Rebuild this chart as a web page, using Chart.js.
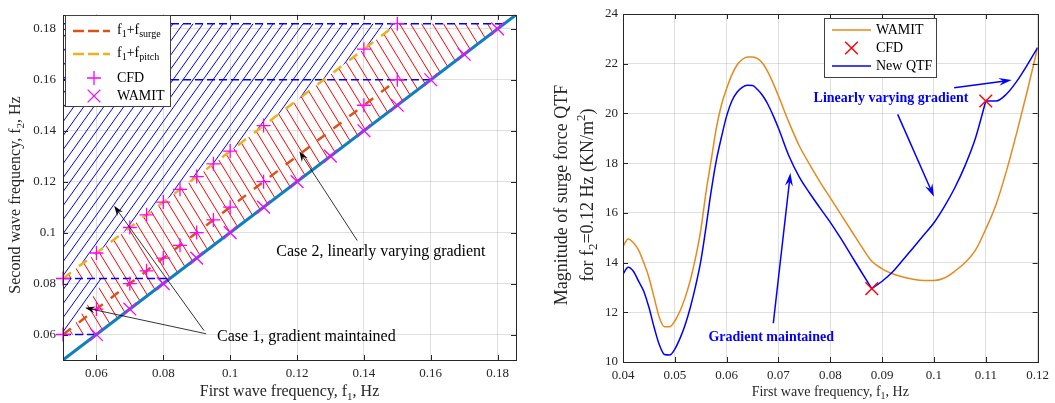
<!DOCTYPE html>
<html>
<head>
<meta charset="utf-8">
<script src="https://cdn.jsdelivr.net/npm/chart.js@4.4.1/dist/chart.umd.min.js"></script>
<style>
  html, body { margin: 0; padding: 0; background: #fff; }
  #wrap { position: relative; width: 1055px; height: 403px; }
  #left { position: absolute; left: 0; top: 0; }
  #right { position: absolute; left: 530px; top: 0; }
</style>
</head>
<body>
<div id="wrap">
  <canvas id="left" width="530" height="403"></canvas>
  <canvas id="right" width="525" height="403"></canvas>
</div>
<script>
// two-panel QTF figure: frequency-pair map (left) and QTF slice at f2 = 0.12 Hz (right)

// --- left panel data ---
const leftTicks = [0.06, 0.08, 0.1, 0.12, 0.14, 0.16, 0.18];
const leftTickLabels = ['0.06', '0.08', '0.1', '0.12', '0.14', '0.16', '0.18'];

const caseOneLowF1 = [0.05, 0.05, 0.0625, 0.0515];
const caseOneLowF2 = [0.06, 0.082, 0.082, 0.06];
const caseOneHighF1 = [0.05, 0.05, 0.15];
const caseOneHighF2 = [0.082, 0.182, 0.182];
const caseTwoF1 = [0.05, 0.0625, 0.0515, 0.06, 0.182, 0.15];
const caseTwoF2 = [0.082, 0.082, 0.06, 0.06, 0.182, 0.182];

const diagF1 = [0.05, 0.1855];
const diagF2 = [0.05, 0.1855];
const surgeF1 = [0.05, 0.15];
const surgeF2 = [0.06, 0.16];
const pitchF1 = [0.05, 0.15];
const pitchF2 = [0.082, 0.182];
const levelF2 = [0.06, 0.082, 0.16, 0.182];
const levelEndF1 = [0.06, 0.082, 0.16, 0.182];

const cfdLeftF1 = [0.05, 0.06, 0.07, 0.075, 0.08, 0.085, 0.09, 0.095, 0.1, 0.11, 0.14, 0.15];
const cfdSurgeF2 = [0.06, 0.07, 0.08, 0.085, 0.09, 0.095, 0.1, 0.105, 0.11, 0.12, 0.15, 0.16];
const cfdPitchF2 = [0.082, 0.092, 0.102, 0.107, 0.112, 0.117, 0.122, 0.127, 0.132, 0.142, 0.172, 0.182];
const wamitLeftF1 = [0.06, 0.07, 0.08, 0.09, 0.1, 0.11, 0.12, 0.13, 0.14, 0.15, 0.16, 0.17, 0.18];
const wamitLeftF2 = [0.06, 0.07, 0.08, 0.09, 0.1, 0.11, 0.12, 0.13, 0.14, 0.15, 0.16, 0.17, 0.18];

// --- right panel data ---
const rightXTicks = [0.04, 0.05, 0.06, 0.07, 0.08, 0.09, 0.1, 0.11, 0.12];
const rightXTickLabels = ['0.04', '0.05', '0.06', '0.07', '0.08', '0.09', '0.1', '0.11', '0.12'];
const rightYTicks = [10, 12, 14, 16, 18, 20, 22, 24];
const rightYTickLabels = ['10', '12', '14', '16', '18', '20', '22', '24'];

const qtfF1 = [0.040, 0.041, 0.042, 0.043, 0.044, 0.045, 0.046, 0.047, 0.048, 0.049,
  0.050, 0.051, 0.052, 0.053, 0.054, 0.055, 0.056, 0.057, 0.058, 0.059,
  0.060, 0.061, 0.062, 0.063, 0.064, 0.065, 0.066, 0.067, 0.068, 0.069,
  0.070, 0.072, 0.074, 0.076, 0.078, 0.080, 0.082, 0.084, 0.086, 0.088,
  0.090, 0.092, 0.094, 0.096, 0.098, 0.100, 0.102, 0.104, 0.106, 0.108,
  0.110, 0.112, 0.114, 0.116, 0.118, 0.120];
const wamitMag = [14.65, 14.95, 14.8, 14.5, 14.0, 13.4, 12.6, 11.8, 11.42, 11.42,
  11.65, 12.05, 12.6, 13.3, 14.2, 15.3, 16.8, 18.1, 19.4, 20.35,
  21.0, 21.55, 21.95, 22.17, 22.27, 22.27, 22.2, 22.0, 21.65, 21.2,
  20.7, 19.65, 18.7, 17.95, 17.25, 16.6, 15.95, 15.3, 14.65, 14.05,
  13.75, 13.55, 13.42, 13.33, 13.28, 13.28, 13.38, 13.65, 14.0, 14.5,
  15.35, 16.35, 17.7, 19.25, 20.9, 22.65];
const newQtfMag = [13.54, 13.81, 13.65, 13.25, 12.85, 12.2, 11.4, 10.7, 10.3, 10.28,
  10.52, 10.95, 11.5, 12.2, 13.05, 14.05, 15.4, 16.85, 18.1, 19.05,
  19.9, 20.5, 20.85, 21.05, 21.13, 21.12, 20.95, 20.7, 20.35, 19.9,
  19.4, 18.3, 17.45, 16.8, 16.2, 15.62, 14.98, 14.3, 13.62, 12.95,
  13.25, 13.62, 14.1, 14.6, 15.1, 15.6, 16.25, 17.0, 17.9, 19.0,
  20.5, 20.5, 20.78, 21.3, 21.95, 22.65];
const qtfKinks = [39, 50]; // indices of the two CFD anchor points (0.088, 0.11)
const cfdF1 = [0.088, 0.11];
const cfdMag = [12.95, 20.5];

// --- helpers ---
const FONT = "'Liberation Serif', 'Times New Roman', serif";
const INK = '#262626';
const GRID = 'rgba(38,38,38,0.15)';

const pts = (xs, ys) => xs.map((v, i) => ({ x: v, y: ys[i] }));

function hatch(ctx, color, w, h, slope) {
  const c = document.createElement('canvas');
  c.width = w; c.height = h;
  const g = c.getContext('2d');
  g.strokeStyle = color; g.lineWidth = 1;
  [-w, 0, w].forEach(dx => {
    g.beginPath();
    if (slope > 0) { g.moveTo(dx, h); g.lineTo(dx + w, 0); }
    else { g.moveTo(dx, 0); g.lineTo(dx + w, h); }
    g.stroke();
  });
  return ctx.createPattern(c, 'repeat');
}

// parts: [text, mode] with mode 0 normal, 1 subscript, 2 superscript
function rich(ctx, parts, x, y, size, align, weight) {
  const fontFor = m => `${weight || 'normal'} ${m ? Math.round(size * 0.7) : size}px ${FONT}`;
  const widths = parts.map(([t, m]) => { ctx.font = fontFor(m); return ctx.measureText(t).width; });
  const total = widths.reduce((a, b) => a + b, 0);
  let cx = align === 'center' ? x - total / 2 : x;
  ctx.textAlign = 'left';
  ctx.textBaseline = 'middle';
  parts.forEach(([t, m], i) => {
    ctx.font = fontFor(m);
    const dy = m === 1 ? size * 0.3 : m === 2 ? -size * 0.38 : 0;
    ctx.fillText(t, cx, y + dy);
    cx += widths[i];
  });
}

function richRot(ctx, parts, x, y, size) {
  ctx.save();
  ctx.translate(x, y);
  ctx.rotate(-Math.PI / 2);
  rich(ctx, parts, 0, 0, size, 'center');
  ctx.restore();
}

function arrow(ctx, x0, y0, x1, y1, color, lw, len, wid) {
  const a = Math.atan2(y1 - y0, x1 - x0), c = Math.cos(a), s = Math.sin(a);
  const bx = x1 - len * c, by = y1 - len * s;
  const nx = x1 - len * 0.65 * c, ny = y1 - len * 0.65 * s;
  ctx.strokeStyle = color; ctx.fillStyle = color; ctx.lineWidth = lw;
  ctx.beginPath(); ctx.moveTo(x0, y0); ctx.lineTo(nx, ny); ctx.stroke();
  ctx.beginPath();
  ctx.moveTo(x1, y1);
  ctx.lineTo(bx - wid / 2 * s, by + wid / 2 * c);
  ctx.lineTo(nx, ny);
  ctx.lineTo(bx + wid / 2 * s, by - wid / 2 * c);
  ctx.closePath();
  ctx.fill();
}

function cross(ctx, x, y, r, rot, color, lw) {
  ctx.strokeStyle = color; ctx.lineWidth = lw;
  ctx.beginPath();
  if (rot) {
    const d = r * Math.SQRT1_2;
    ctx.moveTo(x - d, y - d); ctx.lineTo(x + d, y + d);
    ctx.moveTo(x - d, y + d); ctx.lineTo(x + d, y - d);
  } else {
    ctx.moveTo(x - r, y); ctx.lineTo(x + r, y);
    ctx.moveTo(x, y - r); ctx.lineTo(x, y + r);
  }
  ctx.stroke();
}

// box around plot area with inward ticks, MATLAB style
const framePlugin = {
  id: 'frame',
  afterDatasetsDraw(chart) {
    const { ctx, chartArea: a, scales: { x, y } } = chart;
    ctx.save();
    ctx.strokeStyle = INK; ctx.lineWidth = 1;
    ctx.strokeRect(Math.round(a.left) + 0.5, Math.round(a.top) + 0.5,
      Math.round(a.right - a.left), Math.round(a.bottom - a.top));
    ctx.beginPath();
    x.ticks.forEach(t => {
      const px = Math.round(x.getPixelForValue(t.value)) + 0.5;
      ctx.moveTo(px, a.bottom); ctx.lineTo(px, a.bottom - 5);
      ctx.moveTo(px, a.top); ctx.lineTo(px, a.top + 5);
    });
    y.ticks.forEach(t => {
      const py = Math.round(y.getPixelForValue(t.value)) + 0.5;
      ctx.moveTo(a.left, py); ctx.lineTo(a.left + 5, py);
      ctx.moveTo(a.right, py); ctx.lineTo(a.right - 5, py);
    });
    ctx.stroke();
    ctx.restore();
  }
};

// annotations, axis titles and legend
const notesPlugin = {
  id: 'notes',
  afterDraw(chart, args, opts) {
    const { ctx, scales: { x, y } } = chart;
    ctx.save();
    (opts.items || []).forEach(it => {
      if (it.type === 'text') {
        ctx.fillStyle = it.color;
        rich(ctx, [[it.text, 0]], x.getPixelForValue(it.at[0]), y.getPixelForValue(it.at[1]), it.size, 'center', it.weight);
      } else {
        arrow(ctx, x.getPixelForValue(it.from[0]), y.getPixelForValue(it.from[1]),
          x.getPixelForValue(it.to[0]), y.getPixelForValue(it.to[1]), it.color, it.lw, it.len, it.wid);
      }
    });
    if (opts.draw) opts.draw(ctx, chart);
    ctx.restore();
  }
};

function baseScale(min, max, ticks, labels, pad, fit) {
  return {
    type: 'linear', min, max,
    afterBuildTicks: s => { s.ticks = ticks.map(v => ({ value: v })); },
    afterFit: fit,
    grid: { color: GRID, drawTicks: false, lineWidth: 1 },
    border: { display: false },
    ticks: {
      autoSkip: false, maxRotation: 0, padding: pad, color: INK,
      font: { family: FONT, size: 13 },
      callback: (v, i) => labels[i]
    }
  };
}

// --- left chart ---
const lctx = document.getElementById('left').getContext('2d');
const blueHatch = hatch(lctx, '#0000ff', 10, 14, 1);
const redHatch = hatch(lctx, '#ff0000', 11, 18, -1);

const lineDs = (data, color, width, dash, order) => ({
  data, borderColor: color, borderWidth: width, borderDash: dash || [],
  pointRadius: 0, pointHoverRadius: 0, fill: false, order
});
const markDs = (data, style, r, order) => ({
  data, showLine: false, pointStyle: style, pointRadius: r, pointHoverRadius: r,
  pointBorderColor: '#ff00ff', pointBackgroundColor: 'rgba(0,0,0,0)', pointBorderWidth: 1.3,
  borderColor: '#ff00ff', clip: false, order
});
const areaDs = (data, pattern) => ({
  data, fill: 'shape', backgroundColor: pattern, borderColor: 'rgba(0,0,0,0)',
  borderWidth: 0, pointRadius: 0, pointHoverRadius: 0, order: 9
});

new Chart(lctx, {
  type: 'line',
  data: {
    datasets: [
      markDs(pts(cfdLeftF1, cfdSurgeF2), 'cross', 7, 0),
      markDs(pts(cfdLeftF1, cfdPitchF2), 'cross', 7, 0),
      markDs(pts(wamitLeftF1, wamitLeftF2), 'crossRot', 9, 0),
      lineDs(pts(pitchF1, pitchF2), '#edb120', 2.5, [10, 10], 1),
      lineDs(pts(surgeF1, surgeF2), '#d95319', 2.5, [10, 10], 1),
      lineDs(pts(diagF1, diagF2), '#0f7fc0', 3, null, 2),
      ...levelF2.map((v, i) => lineDs([{ x: 0.05, y: v }, { x: levelEndF1[i], y: v }], '#0000ff', 1.5, [8, 4], 3)),
      areaDs(pts(caseOneLowF1, caseOneLowF2), blueHatch),
      areaDs(pts(caseOneHighF1, caseOneHighF2), blueHatch),
      areaDs(pts(caseTwoF1, caseTwoF2), redHatch)
    ]
  },
  options: {
    responsive: false, animation: false, events: [],
    layout: { padding: { top: 13, right: 14, left: 0, bottom: 0 } },
    scales: {
      x: baseScale(0.05, 0.1855, leftTicks, leftTickLabels, 6, s => { s.height = 43; }),
      y: baseScale(0.05, 0.1855, leftTicks, leftTickLabels, 7, s => { s.width = 63; })
    },
    plugins: {
      legend: { display: false }, tooltip: { enabled: false },
      notes: {
        items: [
          { type: 'arrow', from: [0.138, 0.0969], to: [0.1207, 0.1318], color: '#000', lw: 0.8, len: 10, wid: 7 },
          { type: 'arrow', from: [0.0928, 0.0603], to: [0.0566, 0.0705], color: '#000', lw: 0.8, len: 10, wid: 7 },
          { type: 'arrow', from: [0.0922, 0.0615], to: [0.0653, 0.1105], color: '#000', lw: 0.8, len: 10, wid: 7 },
          { type: 'text', at: [0.1451, 0.0923], text: 'Case 2, linearly varying gradient', size: 16, color: '#000' },
          { type: 'text', at: [0.1228, 0.0591], text: 'Case 1, gradient maintained', size: 16, color: '#000' }
        ],
        draw(ctx, chart) {
          const a = chart.chartArea;
          ctx.fillStyle = INK;
          rich(ctx, [['First wave frequency, f', 0], ['1', 1], [', Hz', 0]], (a.left + a.right) / 2, 392, 16, 'center');
          richRot(ctx, [['Second wave frequency, f', 0], ['2', 1], [', Hz', 0]], 16, 195, 16);
          // legend
          ctx.fillStyle = '#fff'; ctx.strokeStyle = '#404040'; ctx.lineWidth = 1;
          ctx.fillRect(65.5, 15.5, 105, 91); ctx.strokeRect(65.5, 15.5, 105, 91);
          [['#d95319', 31, 'surge'], ['#edb120', 54, 'pitch']].forEach(([c, yy, sub]) => {
            ctx.strokeStyle = c; ctx.lineWidth = 2.5; ctx.setLineDash([11, 4]);
            ctx.beginPath(); ctx.moveTo(73, yy); ctx.lineTo(110, yy); ctx.stroke();
            ctx.setLineDash([]);
            ctx.fillStyle = '#000';
            rich(ctx, [['f', 0], ['1', 1], ['+f', 0], [sub, 1]], 117, yy - 1, 14, 'left');
          });
          cross(ctx, 94, 78, 7, false, '#ff00ff', 1.3);
          cross(ctx, 94, 96, 9, true, '#ff00ff', 1.3);
          ctx.fillStyle = '#000';
          rich(ctx, [['CFD', 0]], 117, 78, 14, 'left');
          rich(ctx, [['WAMIT', 0]], 117, 96, 14, 'left');
        }
      }
    }
  },
  plugins: [framePlugin, notesPlugin]
});

// --- right chart ---
const rctx = document.getElementById('right').getContext('2d');
const qtfPts = pts(qtfF1, newQtfMag);
const qtfPieces = [qtfPts.slice(0, qtfKinks[0] + 1), qtfPts.slice(qtfKinks[0], qtfKinks[1] + 1), qtfPts.slice(qtfKinks[1])];
const curveDs = (data, color, order) => ({
  data, borderColor: color, borderWidth: 1.5, cubicInterpolationMode: 'monotone',
  pointRadius: 0, pointHoverRadius: 0, fill: false, order
});

new Chart(rctx, {
  type: 'line',
  data: {
    datasets: [
      { data: pts(cfdF1, cfdMag), showLine: false, pointStyle: 'crossRot', pointRadius: 9, pointHoverRadius: 9,
        pointBorderColor: '#ff0000', pointBorderWidth: 1.4, borderColor: '#ff0000', clip: false, order: 0 },
      ...qtfPieces.map(p => curveDs(p, '#0000ff', 1)),
      curveDs(pts(qtfF1, wamitMag), '#e6891e', 2)
    ]
  },
  options: {
    responsive: false, animation: false, events: [],
    layout: { padding: { top: 14, right: 14, left: 0, bottom: 0 } },
    scales: {
      x: baseScale(0.04, 0.12, rightXTicks, rightXTickLabels, 6, s => { s.height = 41; }),
      y: baseScale(10, 24, rightYTicks, rightYTickLabels, 5, s => { s.width = 93; })
    },
    plugins: {
      legend: { display: false }, tooltip: { enabled: false },
      notes: {
        items: [
          { type: 'arrow', from: [0.1039, 21.03], to: [0.115, 21.34], color: '#0000ff', lw: 1.5, len: 13, wid: 8 },
          { type: 'arrow', from: [0.093, 19.96], to: [0.1, 16.65], color: '#0000ff', lw: 1.5, len: 13, wid: 8 },
          { type: 'arrow', from: [0.069, 11.56], to: [0.0723, 17.6], color: '#0000ff', lw: 1.5, len: 13, wid: 8 },
          { type: 'text', at: [0.0917, 20.62], text: 'Linearly varying gradient', size: 14, weight: 'bold', color: '#0000ff' },
          { type: 'text', at: [0.0686, 11.0], text: 'Gradient maintained', size: 14, weight: 'bold', color: '#0000ff' }
        ],
        draw(ctx, chart) {
          const a = chart.chartArea;
          ctx.fillStyle = INK;
          rich(ctx, [['First wave frequency, f', 0], ['1', 1], [', Hz', 0]], (a.left + a.right) / 2, 392, 14, 'center');
          richRot(ctx, [['Magnitude of surge force QTF', 0]], 32, 195, 18);
          richRot(ctx, [['for f', 0], ['2', 1], ['=0.12 Hz (KN/m', 0], ['2', 2], [')', 0]], 58, 195, 18);
          // legend
          ctx.fillStyle = '#fff'; ctx.strokeStyle = '#404040'; ctx.lineWidth = 1;
          ctx.fillRect(294.5, 18.5, 112, 59); ctx.strokeRect(294.5, 18.5, 112, 59);
          ctx.lineWidth = 1.5;
          ctx.strokeStyle = '#e6891e'; ctx.beginPath(); ctx.moveTo(302, 30); ctx.lineTo(341, 30); ctx.stroke();
          ctx.strokeStyle = '#0000ff'; ctx.beginPath(); ctx.moveTo(302, 66); ctx.lineTo(341, 66); ctx.stroke();
          cross(ctx, 321.5, 48, 9, true, '#ff0000', 1.4);
          ctx.fillStyle = '#000';
          rich(ctx, [['WAMIT', 0]], 346, 30, 14, 'left');
          rich(ctx, [['CFD', 0]], 346, 48, 14, 'left');
          rich(ctx, [['New QTF', 0]], 346, 66, 14, 'left');
        }
      }
    }
  },
  plugins: [framePlugin, notesPlugin]
});
</script>
</body>
</html>
